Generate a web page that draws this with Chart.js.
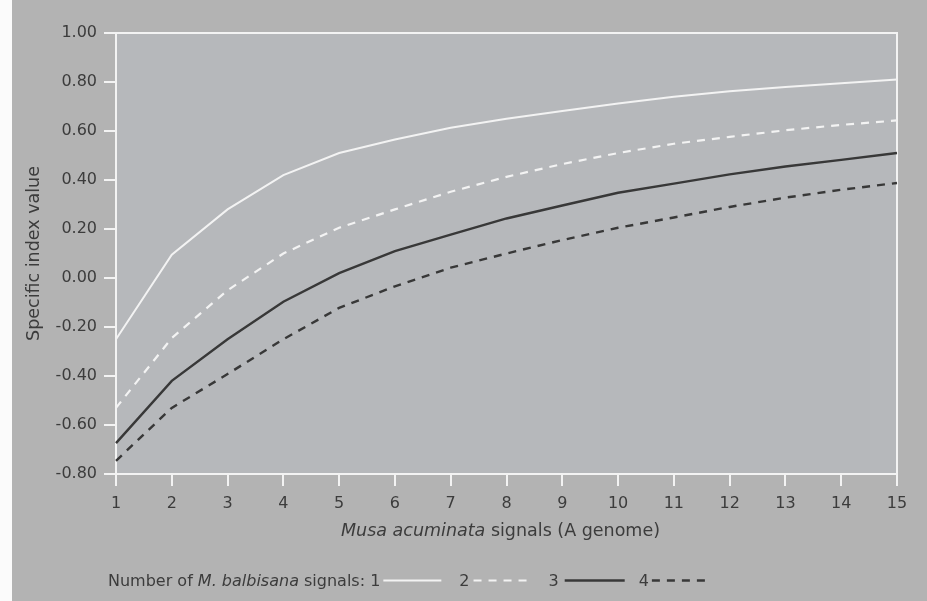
<!DOCTYPE html>
<html>
<head>
<meta charset="utf-8">
<title>Specific index value</title>
<script src="https://cdn.jsdelivr.net/npm/chart.js@4.4.1/dist/chart.umd.min.js"></script>
<style>
  html, body { margin: 0; padding: 0; background: #ffffff; }
  canvas { display: block; }
</style>
</head>
<body>
<canvas id="myChart" width="927" height="601"></canvas>
<script>
// Musa acuminata signals (x axis)
const signals = [1, 2, 3, 4, 5, 6, 7, 8, 9, 10, 11, 12, 13, 14, 15];

// Specific index value for each number of M. balbisana signals
const oneSignal = [-0.25, 0.095, 0.28, 0.42, 0.51, 0.565, 0.613, 0.65, 0.682, 0.712, 0.74, 0.762, 0.78, 0.795, 0.81];
const twoSignals = [-0.53, -0.245, -0.05, 0.10, 0.205, 0.28, 0.352, 0.413, 0.465, 0.51, 0.548, 0.576, 0.603, 0.625, 0.643];
const threeSignals = [-0.674, -0.42, -0.25, -0.097, 0.02, 0.11, 0.177, 0.243, 0.296, 0.348, 0.385, 0.423, 0.455, 0.482, 0.51];
const fourSignals = [-0.746, -0.53, -0.392, -0.25, -0.122, -0.034, 0.042, 0.1, 0.155, 0.205, 0.247, 0.29, 0.328, 0.36, 0.388];

const seriesNames = ['1', '2', '3', '4'];
const yTickValues = [-0.8, -0.6, -0.4, -0.2, 0, 0.2, 0.4, 0.6, 0.8, 1.0];

const FONT = '"DejaVu Sans", sans-serif';
const TEXT_COLOR = '#3c3c3c';
const WHITE = '#f3f3f3';
const DARK = '#383838';

const lineStyles = [
  { color: WHITE, dash: [], width: 2 },
  { color: WHITE, dash: [8, 7], width: 2.2 },
  { color: DARK, dash: [], width: 2.4 },
  { color: DARK, dash: [8, 7], width: 2.4 }
];

const allSeries = [oneSignal, twoSignals, threeSignals, fourSignals];

const canvas = document.getElementById('myChart');
const ctx = canvas.getContext('2d');

// Draw a row of text pieces, some in italic, returns the end x
function drawRuns(c, runs, x, y, size) {
  runs.forEach(run => {
    c.font = (run.italic ? 'italic ' : '') + size + 'px ' + FONT;
    c.fillText(run.text, x, y);
    x += c.measureText(run.text).width;
  });
  return x;
}

function measureRuns(c, runs, size) {
  let w = 0;
  runs.forEach(run => {
    c.font = (run.italic ? 'italic ' : '') + size + 'px ' + FONT;
    w += c.measureText(run.text).width;
  });
  return w;
}

function sampleLine(c, style, x, y, len) {
  c.save();
  c.strokeStyle = style.color;
  c.lineWidth = style.width;
  c.setLineDash(style.dash);
  c.beginPath();
  c.moveTo(x, y);
  c.lineTo(x + len, y);
  c.stroke();
  c.restore();
}

// Paper, plot area and frame
const paperPlugin = {
  id: 'paper',
  beforeDraw(chart) {
    const { ctx: c, width, height, chartArea: a } = chart;
    c.save();
    c.fillStyle = '#fbfbfb';
    c.fillRect(0, 0, width, height);
    c.fillStyle = '#b3b3b3';
    c.fillRect(12, 0, width - 12, height);
    c.fillStyle = '#b6b8bb';
    c.fillRect(a.left, a.top, a.right - a.left, a.bottom - a.top);
    c.restore();
  },
  beforeDatasetsDraw(chart) {
    const { ctx: c, chartArea: a } = chart;
    c.save();
    c.strokeStyle = WHITE;
    c.lineWidth = 2;
    c.strokeRect(a.left, a.top, a.right - a.left, a.bottom - a.top);
    c.restore();
  },
  afterDraw(chart) {
    const { ctx: c, chartArea: a } = chart;
    c.save();
    c.fillStyle = TEXT_COLOR;
    c.textBaseline = 'alphabetic';
    c.textAlign = 'left';

    // x axis title with italic species name
    const title = [
      { text: 'Musa acuminata', italic: true },
      { text: ' signals (A genome)' }
    ];
    const tw = measureRuns(c, title, 17.5);
    drawRuns(c, title, (a.left + a.right) / 2 - 6 - tw / 2, 536, 17.5);

    // legend
    const legendY = 586;
    const lineY = 580.5;
    let x = drawRuns(c, [
      { text: 'Number of ' },
      { text: 'M. balbisana', italic: true },
      { text: ' signals: ' }
    ], 108, legendY, 16);
    const gaps = [{ before: 0, pad: 3, len: 58 }, { before: 18, pad: 4, len: 55 },
                  { before: 20, pad: 6, len: 60 }, { before: 14, pad: 3, len: 53 }];
    seriesNames.forEach((name, i) => {
      x += gaps[i].before;
      x = drawRuns(c, [{ text: name }], x, legendY, 16);
      x += gaps[i].pad;
      sampleLine(c, lineStyles[i], x, lineY, gaps[i].len);
      x += gaps[i].len;
    });
    c.restore();
  }
};

const myChart = new Chart(ctx, {
  type: 'line',
  data: {
    labels: signals,
    datasets: allSeries.map((values, i) => ({
      label: seriesNames[i],
      data: values,
      borderColor: lineStyles[i].color,
      borderWidth: lineStyles[i].width,
      borderDash: lineStyles[i].dash,
      pointRadius: 0,
      tension: 0,
      fill: false
    }))
  },
  options: {
    responsive: false,
    animation: false,
    devicePixelRatio: 1,
    layout: { padding: { left: 0, right: 30, top: 33, bottom: 0 } },
    plugins: {
      legend: { display: false },
      tooltip: { enabled: false }
    },
    scales: {
      x: {
        type: 'category',
        offset: false,
        grid: { drawOnChartArea: false, drawTicks: true, tickLength: 12, color: WHITE, lineWidth: 2 },
        border: { display: true, color: WHITE, width: 2 },
        ticks: {
          autoSkip: false,
          maxRotation: 0,
          padding: 8,
          color: TEXT_COLOR,
          font: { family: FONT, size: 16 }
        },
        afterFit(scale) { scale.height = 601 - 474; }
      },
      y: {
        min: -0.8,
        max: 1.0,
        afterBuildTicks(scale) {
          scale.ticks = yTickValues.map(v => ({ value: v }));
        },
        grid: { drawOnChartArea: false, drawTicks: true, tickLength: 12, color: WHITE, lineWidth: 2 },
        border: { display: true, color: WHITE, width: 2 },
        ticks: {
          padding: 7,
          color: TEXT_COLOR,
          font: { family: FONT, size: 16 },
          callback: v => (Math.abs(v) < 1e-9 ? 0 : v).toFixed(2)
        },
        title: {
          display: true,
          text: 'Specific index value',
          color: TEXT_COLOR,
          font: { family: FONT, size: 17.5, weight: 'normal' },
          padding: { top: 24, bottom: 0 }
        },
        afterFit(scale) { scale.width = 116; }
      }
    }
  },
  plugins: [paperPlugin]
});
</script>
</body>
</html>
